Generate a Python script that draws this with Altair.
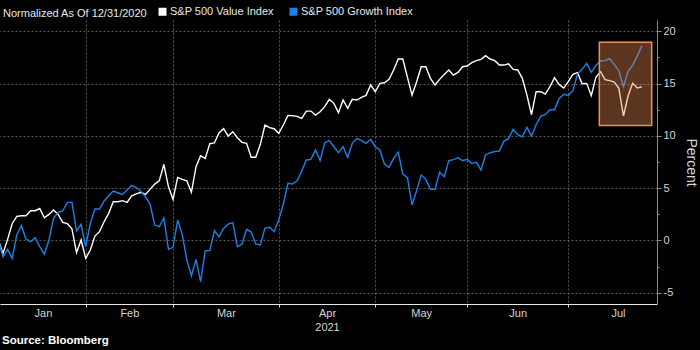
import json
import altair as alt
import pandas as pd

FONT = "Liberation Sans, Arial, Helvetica, sans-serif"

# trading-day index (0 = 12/31/2020, 1 = first trading day of 2021, ...)
day_index = list(range(141))

value_index = [
    0, -1.24, 0.1, 1.6, 2.3, 2.36, 2.36, 2.84, 2.84, 3.05,
    2.17, 2.49, 2.91, 2.49, 1.72, 1.6, 1.12, -1.17, 0.04, -1.72,
    -0.92, 0.42, 0.84, 1.79, 2.59, 3.7, 3.7, 3.8, 3.64, 4.26,
    4.45, 4.6, 4.4, 4.88, 5.39, 5.7, 7.27, 5.14, 3.93, 6.03,
    5.84, 5.71, 4.6, 7.05, 8.1, 7.85, 9.25, 9.32, 10.27, 10.69,
    9.98, 10.4, 9.82, 9.38, 9.28, 7.95, 7.95, 9.19, 11.04, 10.78,
    10.68, 10.24, 11.04, 11.96, 11.93, 11.87, 11.67, 12.37, 12.37, 11.99,
    12.31, 12.79, 13.49, 13.11, 12.22, 13.43, 12.63, 13.49, 13.43, 13.68,
    13.87, 14.86, 14.22, 15.02, 15.08, 15.4, 16.3, 17.35, 17.35, 15.6,
    13.9, 15.18, 16.61, 16.61, 15.5, 14.86, 15.4, 15.88, 16.3, 15.81,
    16.07, 16.61, 16.68, 17.0, 17.19, 17.32, 17.67, 17.35, 17.19, 16.77,
    16.77, 16.9, 16.36, 16.3, 15.5, 13.9, 12.02, 14.22, 14.22, 14.0,
    14.7, 15.56, 14.92, 14.57, 15.18, 15.88, 16.04, 14.99, 15.02, 13.84,
    15.6, 16.14, 15.37, 15.28, 15.15, 14.54, 11.9, 13.81, 15.02, 14.57,
    14.7,
]

growth_index = [
    0, -1.56, -0.85, -1.72, 0.52, 1.41, 0.13, -0.12, 0.26, -0.6,
    -1.33, 0.04, 2.11, 2.68, 2.84, 3.64, 3.64, 0.9, 1.54, -0.6,
    1.63, 3.0, 3.0, 3.77, 4.28, 4.72, 4.56, 4.4, 4.82, 5.27,
    5.05, 4.69, 4.18, 3.48, 1.47, 1.31, 2.17, -0.85, -0.66, 1.95,
    0.58, -1.87, -3.37, -1.81, -3.95, -0.98, -0.98, 0.93, 0.36, 1.15,
    1.57, 1.7, -0.6, -0.34, 1.06, 0.8, -0.34, -0.44, 1.18, 1.26,
    0.84, 1.95, 3.48, 5.46, 5.39, 5.71, 6.64, 7.69, 7.75, 8.65,
    7.63, 9.35, 9.54, 8.96, 8.39, 8.96, 7.94, 9.28, 9.76, 9.54,
    9.28, 9.67, 8.96, 8.65, 7.31, 6.99, 7.85, 8.45, 6.35, 6.0,
    3.38, 4.76, 6.26, 5.84, 4.88, 4.88, 6.54, 6.1, 7.63, 7.72,
    7.91, 7.63, 7.75, 7.37, 7.47, 6.73, 8.17, 8.39, 8.49, 8.55,
    9.5, 9.73, 10.62, 10.11, 9.9, 10.81, 9.98, 11.06, 11.86, 12.02,
    12.5, 12.5, 13.58, 13.97, 13.87, 14.32, 15.91, 16.36, 16.93, 16.07,
    16.74, 17.16, 17.19, 17.38, 16.84, 16.23, 14.7, 16.14, 16.77, 17.63,
    18.62,
]

series_names = ["S&P 500 Value Index", "S&P 500 Growth Index"]
series_colors = ["#ffffff", "#1e80e6"]

month_names = ["Jan", "Feb", "Mar", "Apr", "May", "Jun", "Jul"]
month_centers = [9.7, 28.5, 49.5, 71.5, 92, 113, 134.8]
month_ends = [19, 38, 61, 82, 102, 124]
year_label = "2021"
year_month = "Apr"

y_ticks = [-5, -2.5, 0, 2.5, 5, 7.5, 10, 12.5, 15, 17.5, 20]
x_domain = [0.35, 143.3]
y_domain = [-6.08, 21.08]

highlight_x = [130.75, 142.15]
highlight_y = [11.0, 18.95]

legend_title = "Normalized As Of 12/31/2020"
source_text = "Source: Bloomberg"

# ---------------------------------------------------------------------------
n = len(day_index)
df = pd.DataFrame({
    "day": day_index * 2,
    "pct": value_index + growth_index,
    "series": [series_names[0]] * n + [series_names[1]] * n,
})
rect_df = pd.DataFrame({"x0": [highlight_x[0]], "x1": [highlight_x[1]],
                        "y0": [highlight_y[0]], "y1": [highlight_y[1]]})

centers_js = json.dumps(month_centers)
ends_js = json.dumps(month_ends)
label_items = [json.dumps([m, year_label]) if m == year_month else json.dumps(m)
               for m in month_names]
label_expr = (f"indexof({centers_js}, datum.value) < 0 ? '' : "
              f"[{','.join(label_items)}][indexof({centers_js}, datum.value)]")
is_end = f"indexof({ends_js}, datum.value) >= 0"

GRID = "#5a5a5a"
LABEL = "#d4d4d4"

x_scale = alt.Scale(domain=x_domain, nice=False, zero=False)
y_scale = alt.Scale(domain=y_domain, nice=False, zero=False)

x_axis = alt.Axis(
    values=month_ends + month_centers,
    title=None,
    labelExpr=label_expr,
    labelOverlap=False, labelFlush=False, labelBound=False,
    labelColor=LABEL, labelFont=FONT, labelFontSize=11,
    labelPadding=0, labelLineHeight=14, labelBaseline="top", labelAlign="center",
    tickSize=3, tickColor="#e0e0e0",
    tickOpacity={"condition": {"test": is_end, "value": 1}, "value": 0},
    grid=True, gridColor=GRID, gridDash=[2, 2], gridWidth=1,
    gridOpacity={"condition": {"test": is_end, "value": 1}, "value": 0},
    domainColor="#e8e8e8", domainWidth=1,
)

y_axis = alt.Axis(
    orient="right", values=y_ticks,
    title="Percent", titleFont=FONT, titleFontSize=14, titleFontWeight="normal",
    titleColor=LABEL, titlePadding=8,
    labelExpr="datum.value % 5 == 0 ? '' + datum.value : ''",
    labelColor=LABEL, labelFont=FONT, labelFontSize=11, labelPadding=2,
    tickColor="#8a8a8a",
    tickSize={"condition": {"test": "datum.value % 5 == 0", "value": 4}, "value": 2},
    grid=True, gridColor=GRID, gridDash=[2, 2], gridWidth=1,
    gridOpacity={"condition": {"test": "datum.value % 5 == 0", "value": 1}, "value": 0},
    domainColor="#8a8a8a", domainWidth=1,
)

color_scale = alt.Scale(domain=series_names, range=series_colors)

legend = alt.Legend(
    orient="none", legendX=3, legendY=-14, direction="horizontal",
    title=legend_title, titleOrient="left", titleFont=FONT, titleFontSize=11,
    titleFontWeight="normal", titleColor="#e8e8e8", titlePadding=9,
    symbolType="square", symbolSize=16, symbolStrokeWidth=4,
    symbolFillColor="transparent",
    labelFont=FONT, labelFontSize=11, labelColor="#e8e8e8", labelOffset=2,
    columnPadding=9, padding=0,
)

lines = alt.Chart(df).mark_line(clip=True).encode(
    x=alt.X("day:Q", scale=x_scale, axis=x_axis),
    y=alt.Y("pct:Q", scale=y_scale, axis=y_axis),
    stroke=alt.Stroke("series:N", scale=color_scale, legend=legend),
    strokeWidth=alt.value(1.4),
)

highlight = alt.Chart(rect_df).mark_rect(
    fill="#E68450", fillOpacity=0.4, stroke="#E8915A", strokeWidth=1.5, strokeOpacity=1
).encode(
    x=alt.X("x0:Q", scale=x_scale, axis=x_axis),
    x2="x1",
    y=alt.Y("y0:Q", scale=y_scale, axis=y_axis),
    y2="y1",
)

chart = alt.layer(lines, highlight).properties(
    width=657, height=284,
    autosize=alt.AutoSizeParams(type="none"),
    padding={"left": 0, "top": 20, "right": 43, "bottom": 46},
    background="#000000",
    title=alt.TitleParams(source_text, orient="bottom", anchor="start", font=FONT,
                          fontSize=11.5, fontWeight="bold", color="#ffffff",
                          offset=3, dx=2),
).configure_view(strokeWidth=0)

chart.save("out.html", embed_options={"renderer": "svg", "actions": False})
